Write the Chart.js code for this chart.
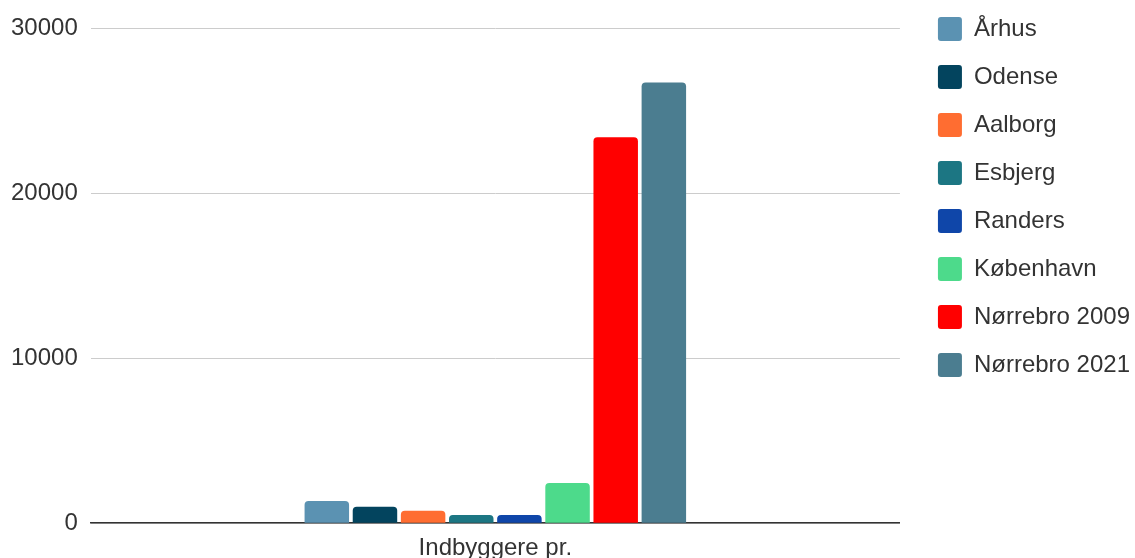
<!DOCTYPE html>
<html lang="da">
<head>
  <meta charset="UTF-8" />
  <title>Indbyggere pr.</title>
  <script src="https://cdn.jsdelivr.net/npm/chart.js"></script>
  <style>
    html, body {
      margin: 0;
      padding: 0;
      background: #ffffff;
      overflow: hidden;
    }
    #wrap {
      width: 1135px;
      height: 574px;
      position: relative;
    }
  </style>
</head>
<body>
  <div id="wrap"><canvas id="chart"></canvas></div>

  <script>
    const categories = ['Indbyggere pr.'];
    const cities = ['Århus', 'Odense', 'Aalborg', 'Esbjerg', 'Randers', 'København', 'Nørrebro 2009', 'Nørrebro 2021'];
    const values = [1340, 990, 750, 500, 500, 2430, 23380, 26700];
    const colors = ['#5b92b2', '#03445e', '#ff6d31', '#1c7683', '#0f46a9', '#4dda8b', '#ff0000', '#4b7d90'];
    const yTicks = [0, 10000, 20000, 30000];

    const font = { family: "'Liberation Sans', Arial, sans-serif", size: 24 };
    const textColor = '#333333';

    const datasets = cities.map((name, i) => ({
      label: name,
      data: [values[i]],
      backgroundColor: colors[i],
      borderWidth: 0,
      borderRadius: { topLeft: 4, topRight: 4 },
      borderSkipped: 'bottom',
      categoryPercentage: 0.476,
      barPercentage: 0.924
    }));

    new Chart(document.getElementById('chart'), {
      type: 'bar',
      data: { labels: categories, datasets: datasets },
      options: {
        responsive: true,
        maintainAspectRatio: false,
        animation: false,
        layout: { padding: { top: -7, left: -2, right: -5, bottom: 0 } },
        plugins: {
          title: {
            display: true,
            text: '',
            fullSize: false,
            font: { size: 10, lineHeight: 1 },
            padding: { top: 25, bottom: 0 }
          },
          tooltip: { enabled: false },
          legend: {
            position: 'right',
            align: 'start',
            maxWidth: 300,
            labels: {
              font: font,
              color: textColor,
              boxWidth: 24,
              boxHeight: 24,
              padding: 24,
              useBorderRadius: true,
              borderRadius: 3
            }
          }
        },
        scales: {
          x: {
            grid: { display: false, drawTicks: false },
            border: { color: '#333333', width: 1.5 },
            ticks: { font: font, color: textColor, padding: 11 }
          },
          y: {
            min: 0,
            max: 30000,
            afterBuildTicks: axis => { axis.ticks = yTicks.map(v => ({ value: v })); },
            grid: { color: '#cccccc', drawTicks: false },
            border: { display: false },
            ticks: { font: font, color: textColor, padding: 13, callback: v => String(v) }
          },
          gap: {
            position: 'right',
            display: true,
            grid: { display: false },
            border: { display: false },
            ticks: { display: false },
            afterFit: axis => { axis.width = 14; }
          }
        }
      }
    });
  </script>
</body>
</html>
